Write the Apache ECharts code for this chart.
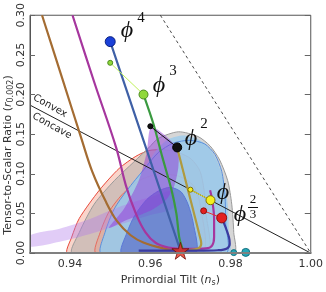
<!DOCTYPE html>
<html><head><meta charset="utf-8">
<script src="https://cdn.jsdelivr.net/npm/echarts@6/dist/echarts.min.js"></script>
<style>html,body{margin:0;padding:0;background:#fff}#c{width:326px;height:292px}</style>
</head><body><div id="c"></div>
<script>
// ---- tick labels ----
const xTicks = [0.94, 0.96, 0.98, 1.00];
const yTicks = [0.00, 0.05, 0.10, 0.15, 0.20, 0.25, 0.30];

// ---- contours [n_s, r] ----
const red95 = [[0.9394,0],[0.9404,0.0202],[0.9423,0.0439],[0.9473,0.0794],[0.9522,0.1067],[0.9564,0.1221],[0.9596,0.1293],[0.9633,0.1304],[0.9670,0.1269],[0.9702,0.1186],[0.9724,0.1032],[0.9734,0.0794],[0.9739,0.0498],[0.9741,0]];
const gray95 = [[0.9406,0],[0.9423,0.0261],[0.9460,0.0617],[0.9510,0.0913],[0.9559,0.1150],[0.9596,0.1328],[0.9620,0.1447],[0.9670,0.1530],[0.9719,0.1470],[0.9749,0.1352],[0.9773,0.1174],[0.9793,0.0913],[0.9803,0.0617],[0.9808,0.0261],[0.9808,0]];
const red68 = [[0.9465,0],[0.9475,0.0261],[0.9497,0.0522],[0.9529,0.0735],[0.9571,0.0913],[0.9620,0.0996],[0.9670,0.0972],[0.9707,0.0854],[0.9724,0.0617],[0.9729,0]];
const blueFill95 = [[0.9478,0],[0.9487,0.0261],[0.9510,0.0557],[0.9542,0.0794],[0.9584,0.1067],[0.9616,0.1304],[0.9645,0.1435],[0.9682,0.1482],[0.9719,0.1435],[0.9746,0.1328],[0.9766,0.1162],[0.9783,0.0913],[0.9793,0.0617],[0.9796,0.0261],[0.9796,0]];
const blueLine95 = [[0.9478,0],[0.9487,0.0261],[0.9510,0.0557],[0.9542,0.0794],[0.9584,0.1055],[0.9620,0.1269],[0.9657,0.1387],[0.9699,0.1423],[0.9736,0.1376],[0.9761,0.1245],[0.9778,0.1032],[0.9786,0.0735],[0.9788,0.0379],[0.9788,0]];
const blue68 = [[0.9529,0],[0.9542,0.0261],[0.9561,0.0474],[0.9591,0.0676],[0.9620,0.0783],[0.9650,0.0830],[0.9677,0.0771],[0.9694,0.0617],[0.9707,0.0379],[0.9712,0]];
const purpleBand = [[0.9300,0.0225],[0.9374,0.0308],[0.9448,0.0427],[0.9522,0.0581],[0.9596,0.0700],[0.9657,0.0783],[0.9657,0.0569],[0.9596,0.0474],[0.9522,0.0356],[0.9448,0.0237],[0.9374,0.0142],[0.9300,0.0083]];
const purpleWedge = [[0.9603,0.1589],[0.9667,0.1328],[0.9670,0.1091],[0.9660,0.0854],[0.9640,0.0676],[0.9608,0.0557],[0.9571,0.0474],[0.9534,0.0403],[0.9497,0.0320],[0.9534,0.0557],[0.9571,0.0913],[0.9591,0.1269]];

// ---- model curves [n_s, r] ----
const brownCurve = [[0.9330,0.300],[0.9381,0.2194],[0.9428,0.1447],[0.9455,0.1032],[0.9490,0.0640],[0.9517,0.0403],[0.9551,0.0225],[0.9584,0.0130],[0.9633,0.0059],[0.9675,0.0024]];
const oliveCurve = [[0.9667,0.1328],[0.9682,0.1032],[0.9697,0.0735],[0.9712,0.0439],[0.9722,0.0237],[0.9727,0.0119],[0.9719,0.0059],[0.9694,0.0036],[0.9675,0.0024]];
const magentaCurve = [[0.9406,0.300],[0.9460,0.2158],[0.9515,0.1328],[0.9539,0.0854],[0.9564,0.0498],[0.9588,0.0261],[0.9613,0.0130],[0.9645,0.0071],[0.9694,0.0053],[0.9739,0.0059],[0.9754,0.0095],[0.9759,0.0202],[0.9759,0.0439],[0.9754,0.0676],[0.9749,0.0794]];
const blueCurve = [[0.9500,0.2667],[0.9588,0.1345],[0.9675,0.0030]];
const greenCurve = [[0.9583,0.2000],[0.9608,0.1625],[0.9630,0.1210],[0.9653,0.0794],[0.9665,0.0498],[0.9672,0.0202],[0.9680,0.0059]];
const navyCurve = [[0.9778,0.0444],[0.9788,0.0320],[0.9796,0.0202],[0.9798,0.0119],[0.9791,0.0059],[0.9768,0.0036],[0.9719,0.0030],[0.9645,0.0030],[0.9571,0.0030]];
const convexLine = [[0.9300,0.18667],[1.0000,0]];
const dashedLine = [[0.9625,0.3000],[1.0000,0]];

// ---- model points (N=50, N=60) ----
const phi4Pts = [[0.9500,0.2667]];
const phi3Pts = [[0.9500,0.2400],[0.9583,0.2000]];
const phi2Pts = [[0.9600,0.1600],[0.9667,0.1333]];
const phi1Pts = [[0.9700,0.0800],[0.9750,0.0667]];
const phi23Pts = [[0.9733,0.0533],[0.9778,0.0444]];
const starPt = [[0.9675,0.0030]];
const tealPts = [[0.9808,0.0006],[0.9838,0.0009]];

function poly(pts, fill, stroke, lw, z){
  return {type:'custom', coordinateSystem:'cartesian2d', clip:true, silent:true, z:z, animation:false,
    data:[pts[0]],
    renderItem:function(params, api){
      return {type:'polygon', shape:{points: pts.map(p=>api.coord(p)), smooth:0.25},
        style:{fill:fill, stroke:stroke||null, lineWidth:lw||0}};
    }};
}
function line(pts, color, width, z, smooth, dash){
  return {type:'line', data:pts, showSymbol:false, symbol:'none', smooth:smooth||0, silent:true, animation:false, z:z,
    lineStyle:{color:color, width:width, type:dash||'solid'}};
}
function dots(pts, sizes, color, border, z){
  return {type:'scatter', data:pts.map((p,i)=>({value:p, symbolSize:sizes[i]})), silent:true, animation:false, z:z,
    itemStyle:{color:color, borderColor:border, borderWidth:1, opacity:1}};
}
const isTick = (arr, v) => arr.some(t => Math.abs(t - v) < 1e-9);

const chart = echarts.init(document.getElementById('c'));
const serif = '"Liberation Serif", "DejaVu Serif", serif';
function phiText(x, y, sup, supx, supy){
  const out = [{type:'text', x:x, y:y, z:50, style:{text:'\u03D5', font:'italic 24px '+serif, fill:'#111', align:'center', verticalAlign:'middle'}}];
  if (sup) out.push({type:'text', x:supx, y:supy, z:50, style:{text:sup, font:'15px '+serif, fill:'#111', align:'center', verticalAlign:'middle'}});
  return out;
}
chart.setOption({
  animation:false,
  grid:{left:30, right:12, top:9, bottom:30, show:true, borderColor:'#555', borderWidth:1, backgroundColor:'transparent'},
  xAxis:{type:'value', min:0.93, max:1.0, interval:0.01, z:20,
    axisLine:{show:true, onZero:false, lineStyle:{color:'#808080', width:2}},
    axisTick:{show:false}, splitLine:{show:false},
    axisLabel:{formatter:v => isTick(xTicks, v) ? v.toFixed(2) : '', fontSize:11, color:'#333', fontFamily:'DejaVu Sans', margin:6, showMinLabel:true, showMaxLabel:true},
    name:'Primordial Tilt ({i|n}{s|s})', nameLocation:'middle', nameGap:19,
    nameTextStyle:{fontSize:11, color:'#333', fontFamily:'DejaVu Sans',
      rich:{i:{fontStyle:'italic', fontSize:11, color:'#333', fontFamily:'DejaVu Sans'}, s:{fontSize:8, color:'#333', fontFamily:'DejaVu Sans', verticalAlign:'bottom', padding:[5,0,0,0]}}}
  },
  yAxis:[{type:'value', min:0, max:0.3, interval:0.05, z:20,
    axisLine:{show:true, lineStyle:{color:'#555', width:1}},
    axisTick:{show:true, inside:true, length:5, lineStyle:{color:'#666'}},
    splitLine:{show:false},
    axisLabel:{rotate:90, formatter:v => isTick(yTicks, v) ? v.toFixed(2) : '', fontSize:11, color:'#333', fontFamily:'DejaVu Sans', margin:3}
  },{type:'value', min:0, max:0.3, interval:0.05, position:'right', z:20,
    axisLine:{show:false}, axisTick:{show:true, inside:true, length:6, lineStyle:{color:'#666'}},
    axisLabel:{show:false}, splitLine:{show:false}}],
  graphic:[
    {type:'text', x:8, y:155, rotation:Math.PI/2, z:50,
      style:{text:'Tensor-to-Scalar Ratio ({i|r}{s|0.002})', font:'11px DejaVu Sans', fill:'#333', align:'center', verticalAlign:'middle',
        rich:{i:{fontStyle:'italic', fontSize:11, fill:'#333', fontFamily:'DejaVu Sans'}, s:{fontSize:8, fill:'#333', fontFamily:'DejaVu Sans', verticalAlign:'bottom', padding:[5,0,0,0]}}}},
    {type:'text', x:50, y:106, rotation:-0.505, z:50, style:{text:'Convex', font:'10px DejaVu Sans', fill:'#222', align:'center', verticalAlign:'middle'}},
    {type:'text', x:52, y:126, rotation:-0.505, z:50, style:{text:'Concave', font:'10px DejaVu Sans', fill:'#222', align:'center', verticalAlign:'middle'}},
    ...phiText(127,31,'4',141,18),
    ...phiText(159,86,'3',173,71),
    ...phiText(191,139,'2',204,124),
    ...phiText(223,193),
    ...phiText(240,215),
    {type:'text', x:253, y:200, z:50, style:{text:'2', font:'13px '+serif, fill:'#111', align:'center', verticalAlign:'middle'}},
    {type:'line', z:50, shape:{x1:248, y1:207.5, x2:258, y2:207.5}, style:{stroke:'#111', lineWidth:1}},
    {type:'text', x:253, y:215, z:50, style:{text:'3', font:'13px '+serif, fill:'#111', align:'center', verticalAlign:'middle'}}
  ],
  series:[
    poly(red95, 'rgba(240,150,125,0.40)', '#e84a3c', 1, 1),
    poly(gray95, 'rgba(165,165,165,0.45)', '#9a9a9a', 1, 1),
    poly(red68, 'rgba(240,150,125,0.35)', '#e8584a', 0.8, 1),
    poly(blueFill95, 'rgba(160,205,235,0.85)', null, 0, 1),
    poly(blueLine95, 'rgba(140,190,230,0.25)', '#5a8fdc', 1, 1),
    poly(purpleBand, 'rgba(175,120,235,0.38)', null, 0, 1),
    poly(blue68, 'rgba(70,85,195,0.55)', '#5a78d8', 1, 1),
    poly(purpleWedge, 'rgba(145,60,215,0.50)', null, 0, 1),
    line(convexLine, '#222', 1, 3),
    line(dashedLine, '#333', 0.9, 3, 0, [3,3]),
    line(brownCurve, '#a46c32', 2.2, 4, 0.35),
    line(magentaCurve, '#a6369e', 2.2, 4, 0.35),
    line(oliveCurve, '#b09a3e', 2.2, 4, 0.35),
    line(navyCurve, '#3b3ba0', 2.2, 4, 0.35),
    line(greenCurve, '#3a9a40', 2.2, 4, 0.3),
    line(blueCurve, '#3f60a6', 2.2, 4, 0),
    line(phi3Pts, '#bff05a', 1, 5),
    line(phi2Pts, '#111', 1, 5),
    line(phi1Pts, '#eee020', 1, 5),
    line(phi23Pts, '#e63030', 1, 5),
    dots(phi4Pts, [10], '#1a40d8', '#0a2080', 8),
    dots(phi3Pts, [5,9], '#8fd83a', '#4c8a20', 8),
    dots(phi2Pts, [5,9], '#111', '#000', 8),
    dots(phi1Pts, [5,9], '#f4f020', '#807000', 8),
    dots(phi23Pts, [6,10], '#e42020', '#901010', 8),
    dots(tealPts, [6,8], '#26a8b8', '#137080', 8),
    {type:'scatter', data:starPt, symbol:'path://M50,0 L61,35 L98,35 L68,57 L79,91 L50,70 L21,91 L32,57 L2,35 L39,35 Z', symbolSize:17, silent:true, animation:false, z:9, clip:false,
      itemStyle:{color:'#e8301e', borderColor:'#6a1008', borderWidth:1}}
  ]
});
</script></body></html>
